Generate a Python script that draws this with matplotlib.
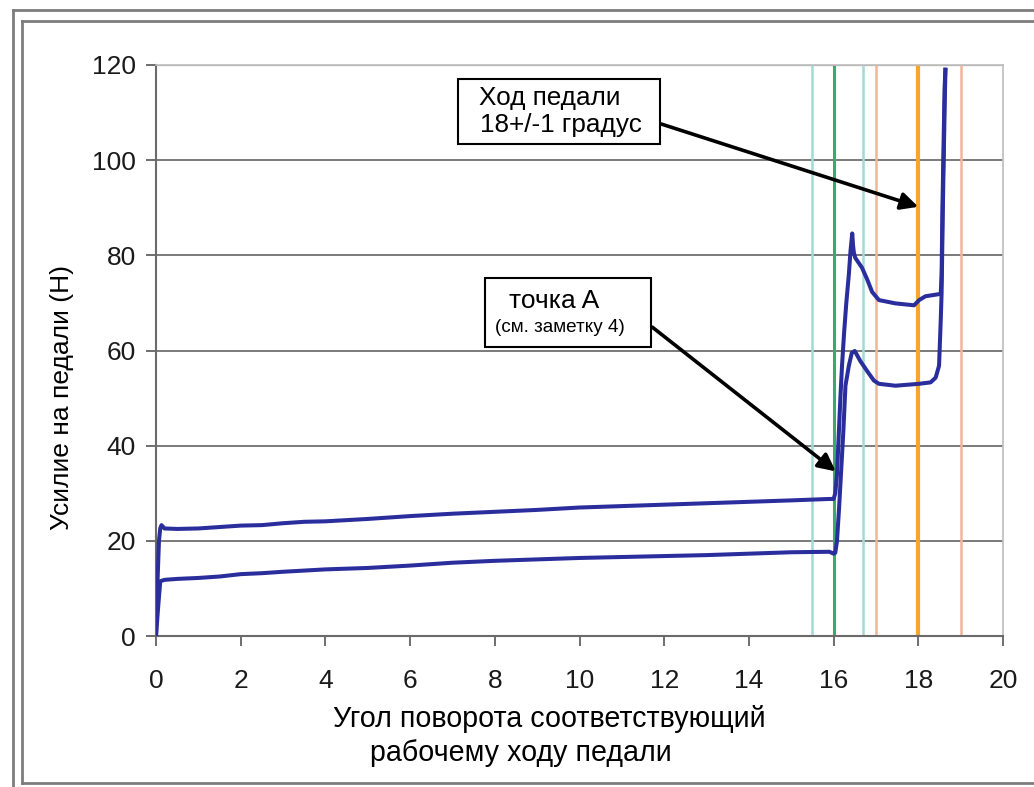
import matplotlib
matplotlib.use("Agg")
import matplotlib.pyplot as plt
from matplotlib.patches import Rectangle
from matplotlib.lines import Line2D

plt.rcParams['font.family'] = ['Liberation Sans', 'DejaVu Sans']

# ---- data ----
upper_x = [0, 0.03, 0.07, 0.10, 0.13, 0.20, 0.5, 1, 1.5, 2, 2.5, 3, 3.5, 4, 5, 6, 7, 8, 9, 10,
           11, 12, 13, 14, 15, 15.9, 16.0, 16.04, 16.08, 16.12, 16.16, 16.20, 16.25, 16.30,
           16.36, 16.40, 16.44, 16.46, 16.48, 16.51, 16.67, 16.79, 16.91, 17.07, 17.46, 17.90,
           18.02, 18.17, 18.53, 18.55, 18.57, 18.60, 18.62, 18.64]
upper_y = [0, 10, 20, 22.6, 23.3, 22.6, 22.5, 22.6, 22.9, 23.2, 23.3, 23.7, 24.0, 24.1, 24.6,
           25.2, 25.7, 26.1, 26.5, 27.0, 27.3, 27.6, 27.9, 28.2, 28.5, 28.8, 28.8, 30, 34, 42,
           50, 57, 64, 70, 76, 81, 84.6, 82, 80.5, 79.5, 77.4, 75, 72.3, 70.6, 69.9, 69.5,
           70.6, 71.4, 71.9, 76, 90, 105, 115, 119]

lower_x = [0, 0.05, 0.10, 0.20, 0.5, 1, 1.5, 2, 2.5, 3, 4, 5, 6, 7, 8, 9, 10, 11, 12, 13, 14,
           15, 15.9, 16.0, 16.04, 16.08, 16.13, 16.18, 16.23, 16.28, 16.36, 16.43, 16.50,
           16.63, 16.79, 16.95, 17.07, 17.46, 18.02, 18.29, 18.41, 18.49, 18.53, 18.55, 18.58,
           18.62, 18.64]
lower_y = [0, 6, 11.5, 11.8, 12.0, 12.2, 12.5, 13.0, 13.2, 13.5, 14.0, 14.3, 14.8, 15.4, 15.8,
           16.1, 16.4, 16.6, 16.8, 17.0, 17.3, 17.6, 17.7, 17.3, 17.5, 20, 27, 35, 43, 52.6,
           56.8, 59.5, 59.9, 57.8, 55.7, 53.7, 53.0, 52.6, 53.0, 53.3, 54.3, 56.8, 66.4, 72,
           90, 110, 119]

ref_lines_x = [15.5, 16.0, 16.7, 17.0, 18.0, 19.0]
ref_colors = ['#a3dbd4', '#3aa96e', '#a3dbd4', '#f6b39b', '#f7a62c', '#f6b39b']
ref_widths = [1.8, 2.2, 1.8, 1.8, 3.0, 1.8]

x_ticks = list(range(0, 21, 2))
y_ticks = list(range(0, 121, 20))

xlabel_1 = 'Угол поворота соответствующий'
xlabel_2 = 'рабочему ходу педали'
ylabel = 'Усилие на педали (Н)'

W, H = 1034, 787
fig = plt.figure(figsize=(W / 100, H / 100), dpi=100)
fig.patch.set_facecolor('white')

ax = fig.add_axes([156 / W, 1 - 636 / H, (1003 - 156) / W, (636 - 65) / H])
ax.set_xlim(0, 20)
ax.set_ylim(0, 120)

# horizontal grid
for yv in y_ticks[1:-1]:
    ax.axhline(yv, color='#7a7a7a', lw=1.4, zorder=1)
ax.axhline(y_ticks[-1], color='#a8a8a8', lw=1.6, zorder=1)

# vertical reference lines
for xv, c, w in zip(ref_lines_x, ref_colors, ref_widths):
    ax.axvline(xv, color=c, lw=w, zorder=2)

line_color = '#2a2e9c'
ax.plot(upper_x, upper_y, color=line_color, lw=2.9, zorder=4, solid_joinstyle='round')
ax.plot(lower_x, lower_y, color=line_color, lw=2.9, zorder=4, solid_joinstyle='round')

ax.set_xticks(x_ticks)
ax.set_yticks(y_ticks)
ax.tick_params(axis='both', direction='out', length=7, width=1.2, color='#555555',
               labelsize=19, labelcolor='#1a1a1a')
ax.tick_params(axis='x', pad=16.5)
ax.tick_params(axis='y', pad=7.5)

for s in ['left', 'bottom']:
    ax.spines[s].set_color('#6a6a6a')
    ax.spines[s].set_linewidth(1.5)
for s in ['top', 'right']:
    ax.spines[s].set_color('#bdbdbd')
    ax.spines[s].set_linewidth(1.2)

# annotation boxes
ax.add_patch(Rectangle((7.14, 103.4), 11.91 - 7.14, 117.1 - 103.4, fc='white', ec='black',
                       lw=1.5, zorder=6, clip_on=False))
ax.text(9.29, 111.6, 'Ход педали', fontsize=18.8, ha='center', va='baseline', zorder=7)
ax.text(9.55, 105.9, '18+/-1 градус', fontsize=18.8, ha='center', va='baseline', zorder=7)

ax.add_patch(Rectangle((7.78, 60.7), 11.68 - 7.78, 75.2 - 60.7, fc='white', ec='black',
                       lw=1.5, zorder=6, clip_on=False))
ax.text(9.41, 68.9, 'точка A', fontsize=19, ha='center', va='baseline', zorder=7)
ax.text(9.53, 63.9, '(см. заметку 4)', fontsize=13.6, ha='center', va='baseline', zorder=7)

arrow_kw = dict(arrowstyle='-|>', lw=2.6, color='black', mutation_scale=26,
                shrinkA=0, shrinkB=0)
ax.annotate('', xy=(18.0, 90.2), xytext=(11.93, 107.6), arrowprops=arrow_kw, zorder=8)
ax.annotate('', xy=(16.05, 34.6), xytext=(11.72, 64.9), arrowprops=arrow_kw, zorder=8)

# axis labels
fig.text(549 / W, 1 - 727 / H, xlabel_1, fontsize=20.6, ha='center', va='baseline')
fig.text(521 / W, 1 - 761 / H, xlabel_2, fontsize=20.6, ha='center', va='baseline')
fig.text(62 / W, 1 - 398 / H, ylabel, fontsize=19, ha='center', va='center', rotation=90)

# double frame
fc = '#7d7d7d'
def fl(x0, y0, x1, y1, lw=2.0):
    fig.add_artist(Line2D([x0 / W, x1 / W], [1 - y0 / H, 1 - y1 / H], color=fc, lw=lw,
                          transform=fig.transFigure))
fl(13, 10, 13, H)
fl(13, 10, W, 10)
fl(22, 21, 22, 783)
fl(22, 21, W, 21)
fl(22, 783, W, 783)

fig.savefig('out.png', dpi=100)
